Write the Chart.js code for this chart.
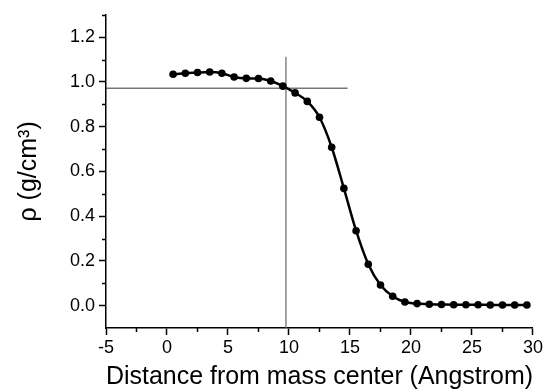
<!DOCTYPE html>
<html>
<head>
<meta charset="utf-8">
<script src="https://cdn.jsdelivr.net/npm/chart.js@4.4.1/dist/chart.umd.min.js"></script>
<style>
  html, body { margin: 0; padding: 0; background: #fff; }
  #wrap { width: 545px; height: 392px; position: relative; }
</style>
</head>
<body>
<div id="wrap"><canvas id="c" width="545" height="392"></canvas></div>
<script>
// Distance from mass center (Angstrom)
const distances = [0.5, 1.5, 2.5, 3.5, 4.5, 5.5, 6.5, 7.5, 8.5, 9.5,
  10.5, 11.5, 12.5, 13.5, 14.5, 15.5, 16.5, 17.5, 18.5, 19.5,
  20.5, 21.5, 22.5, 23.5, 24.5, 25.5, 26.5, 27.5, 28.5, 29.5];
// density rho (g/cm3)
const density = [1.034, 1.039, 1.042, 1.044, 1.039, 1.022, 1.016, 1.015, 1.004, 0.981,
  0.951, 0.913, 0.842, 0.708, 0.524, 0.335, 0.185, 0.092, 0.042, 0.016,
  0.009, 0.006, 0.005, 0.004, 0.004, 0.004, 0.003, 0.003, 0.003, 0.003];
// reference (Gibbs dividing) lines
const hLineX = [-5, 14.8];
const hLineY = [0.972, 0.972];
const vLineX = [9.75, 9.75];
const vLineY = [-0.1, 1.113];
// tick values
const xTicks = [-5, 0, 5, 10, 15, 20, 25, 30];
const xMinorTicks = [-2.5, 2.5, 7.5, 12.5, 17.5, 22.5, 27.5];
const yTicks = [0.0, 0.2, 0.4, 0.6, 0.8, 1.0, 1.2];
const yMinorTicks = [0.1, 0.3, 0.5, 0.7, 0.9, 1.1, 1.3];

const FONT = "'Liberation Sans', Arial, Helvetica, sans-serif";

const toPts = (xs, ys) => xs.map((x, i) => ({ x: x, y: ys[i] }));

const minorTickPlugin = {
  id: 'minorTicks',
  afterDraw(chart) {
    const ctx = chart.ctx;
    const xs = chart.scales.x, ys = chart.scales.y;
    ctx.save();
    ctx.strokeStyle = '#000';
    ctx.lineWidth = 1.5;
    ctx.beginPath();
    xMinorTicks.forEach(v => {
      const px = Math.round(xs.getPixelForValue(v)) + 0.5;
      ctx.moveTo(px, xs.top);
      ctx.lineTo(px, xs.top + 4);
    });
    yMinorTicks.forEach(v => {
      const py = Math.round(ys.getPixelForValue(v)) + 0.5;
      ctx.moveTo(ys.right, py);
      ctx.lineTo(ys.right - 4, py);
    });
    ctx.stroke();
    ctx.restore();
  }
};

new Chart(document.getElementById('c'), {
  type: 'scatter',
  data: {
    datasets: [
      {
        data: toPts(hLineX, hLineY),
        showLine: true,
        borderColor: '#333',
        borderWidth: 1,
        pointRadius: 0,
        order: 3
      },
      {
        data: toPts(vLineX, vLineY),
        showLine: true,
        borderColor: '#666',
        borderWidth: 1.2,
        pointRadius: 0,
        order: 2
      },
      {
        data: toPts(distances, density),
        showLine: true,
        borderColor: '#000',
        borderWidth: 2.5,
        cubicInterpolationMode: 'monotone',
        pointRadius: 3.8,
        pointBackgroundColor: '#000',
        pointBorderColor: '#000',
        pointBorderWidth: 0,
        order: 1
      }
    ]
  },
  options: {
    responsive: false,
    animation: false,
    events: [],
    layout: { padding: { left: 0, top: 13, right: 12, bottom: 0 } },
    plugins: { legend: { display: false }, tooltip: { enabled: false } },
    scales: {
      x: {
        type: 'linear',
        min: -5,
        max: 30,
        afterBuildTicks(scale) { scale.ticks = xTicks.map(v => ({ value: v })); },
        afterFit(scale) { scale.height = 64; },
        grid: { drawOnChartArea: false, drawTicks: true, tickLength: 7, tickColor: '#000', tickWidth: 1.5 },
        border: { display: true, color: '#000', width: 1.5 },
        ticks: { color: '#000', font: { family: FONT, size: 18 }, padding: 2, maxRotation: 0 },
        title: {
          display: true,
          text: 'Distance from mass center (Angstrom)',
          color: '#000',
          font: { family: FONT, size: 25.5 },
          padding: { top: 0, bottom: 0 }
        }
      },
      y: {
        type: 'linear',
        min: -0.1,
        max: 1.3,
        afterBuildTicks(scale) { scale.ticks = yTicks.map(v => ({ value: v })); },
        afterFit(scale) { scale.width = 106; },
        grid: { drawOnChartArea: false, drawTicks: true, tickLength: 7, tickColor: '#000', tickWidth: 1.5 },
        border: { display: true, color: '#000', width: 1.5 },
        ticks: {
          color: '#000',
          font: { family: FONT, size: 18 },
          padding: 4,
          callback: v => v.toFixed(1)
        },
        title: {
          display: true,
          text: 'ρ (g/cm³)',
          color: '#000',
          font: { family: FONT, size: 25 },
          padding: { top: 14, bottom: 0 }
        }
      }
    }
  },
  plugins: [minorTickPlugin]
});
</script>
</body>
</html>
